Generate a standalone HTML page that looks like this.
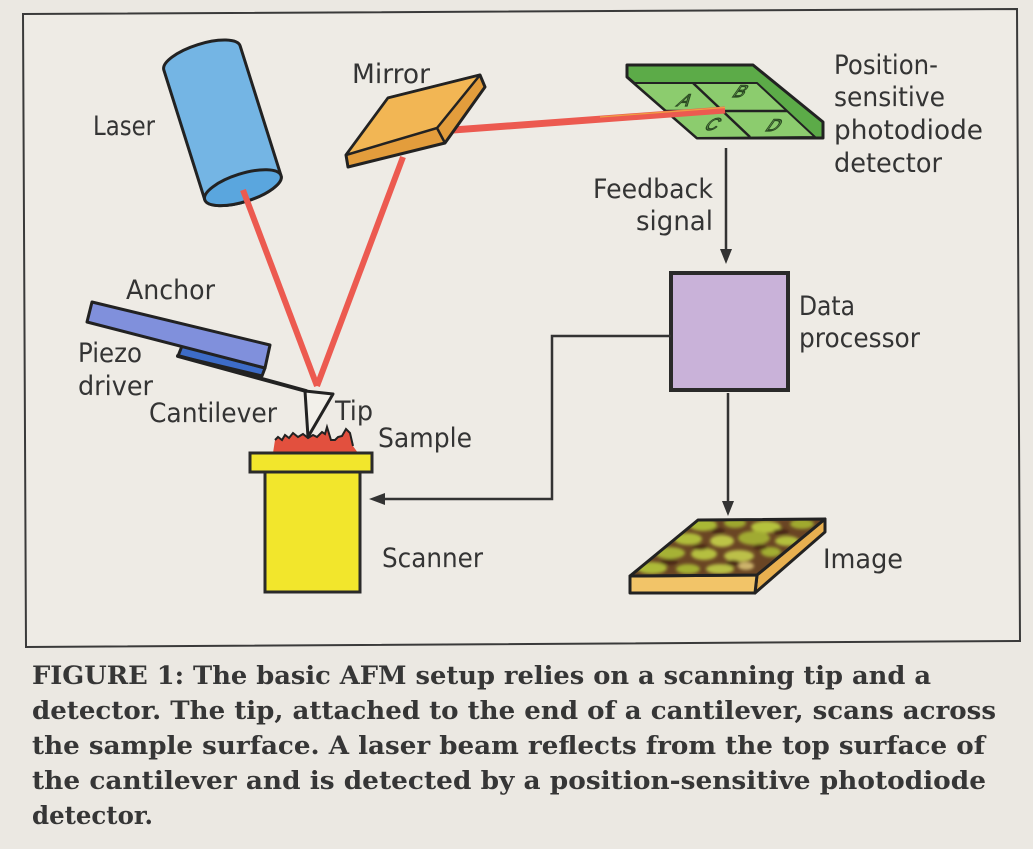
<!DOCTYPE html>
<html>
<head>
<meta charset="utf-8">
<style>
  html,body{margin:0;padding:0;background:#ebe8e2;}
  svg{display:block;}
  .lb{font-family:"DejaVu Sans","Liberation Sans",sans-serif;font-size:27px;fill:#343434;}
  .cap{font-family:"DejaVu Serif","Liberation Serif",serif;font-weight:bold;font-size:25px;fill:#363636;}
</style>
</head>
<body>
<svg width="1033" height="849" viewBox="0 0 1033 849" xmlns="http://www.w3.org/2000/svg">
  <defs>
    <clipPath id="imgclip">
      <polygon points="698,520 825,519 757,575 630,576"/>
    </clipPath>
    <filter id="soft" x="-10%" y="-10%" width="120%" height="120%">
      <feGaussianBlur stdDeviation="1.6"/>
    </filter>
  </defs>
  <rect x="0" y="0" width="1033" height="849" fill="#ebe8e2"/>
  <!-- border box -->
  <polygon points="23,14 1017,9 1020,641 26,647" fill="#eeebe5" stroke="#3a3a3a" stroke-width="2"/>

  <!-- Laser cylinder -->
  <g transform="translate(202,58) rotate(-17.5)">
    <path d="M-40,0 A40,14 0 0,1 40,0 L40,136 A40,14 0 0,1 -40,136 Z" fill="#74b5e4" stroke="#222" stroke-width="3" stroke-linejoin="round"/>
    <ellipse cx="0" cy="136" rx="40" ry="14" fill="#5aa6de" stroke="#222" stroke-width="3"/>
  </g>

  <!-- beams laser->tip, tip->mirror -->
  <line x1="243" y1="190" x2="317" y2="386" stroke="#ec5a50" stroke-width="6"/>
  <line x1="317" y1="386" x2="403" y2="157" stroke="#ec5a50" stroke-width="6"/>

  <!-- Detector -->
  <polygon points="627,65 753,65 823,122 823,138 697,138 627,77" fill="#5cab48" stroke="#222" stroke-width="3" stroke-linejoin="round"/>
  <polygon points="634,83 757,83 815,137 697,138" fill="#8ccc6e" stroke="#222" stroke-width="2" stroke-linejoin="round"/>
  <line x1="666" y1="111" x2="787" y2="111" stroke="#222" stroke-width="2.5"/>
  <line x1="693" y1="83" x2="750" y2="137" stroke="#222" stroke-width="2.5"/>
  <g font-family="Liberation Sans, sans-serif" font-size="17" fill="none" stroke="#2a4a22" stroke-width="1.2">
    <text x="676" y="106" transform="skewX(-35) translate(74,0)">A</text>
    <text x="731" y="97" transform="skewX(-35) translate(68,0)">B</text>
    <text x="703" y="130" transform="skewX(-35) translate(91,0)">C</text>
    <text x="764" y="131" transform="skewX(-35) translate(92,0)">D</text>
  </g>

  <!-- beam mirror->detector -->
  <line x1="453" y1="130" x2="725" y2="110" stroke="#ec5a50" stroke-width="7"/>
  <line x1="600" y1="117" x2="725" y2="107.5" stroke="#f0b040" stroke-width="1.2" opacity="0.8"/>

  <!-- Mirror -->
  <polygon points="388,98 480,75 485,87 445,143 348,167 346,155" fill="#e39d3c" stroke="#222" stroke-width="3" stroke-linejoin="round"/>
  <polygon points="388,98 480,75 437,128 346,155" fill="#f2b654" stroke="#222" stroke-width="2.5" stroke-linejoin="round"/>
  <line x1="437" y1="128" x2="445" y2="143" stroke="#222" stroke-width="2.5"/>

  <!-- Piezo and anchor -->
  <polygon points="182,346 265,368 262,376 178,356" fill="#3d6cc8" stroke="#222" stroke-width="3" stroke-linejoin="round"/>
  <polygon points="92,302 270,345 265,368 87,322" fill="#8090dc" stroke="#222" stroke-width="3" stroke-linejoin="round"/>
  <!-- cantilever -->
  <line x1="178" y1="356" x2="306" y2="391" stroke="#222" stroke-width="4" stroke-linecap="round"/>
  <polygon points="305,391 333,394 308,437" fill="#f2f0ea" stroke="#222" stroke-width="3" stroke-linejoin="round"/>

  <!-- Sample -->
  <polygon points="273,453 275,440 278,437 282,440 285,435 289,438 293,433 298,437 303,434 308,438 313,435 317,437 322,432 325,434 327,427 331,440 335,440 338,437 342,436 346,429 350,433 353,446 358,453" fill="#e2503e"/>
  <polyline points="275,440 278,437 282,440 285,435 289,438 293,433 298,437 303,434 308,438 313,435 317,437 322,432 325,434 327,427 331,440 335,440 338,437 342,436 346,429 350,433 353,446" fill="none" stroke="#222" stroke-width="2"/>

  <!-- Scanner -->
  <rect x="265" y="471" width="95" height="121" fill="#f2e62c" stroke="#2a2a2a" stroke-width="3"/>
  <rect x="250" y="453" width="122" height="19" fill="#f2e62c" stroke="#2a2a2a" stroke-width="3"/>

  <!-- Data processor -->
  <rect x="671" y="273" width="117" height="117" fill="#c9b2d9" stroke="#2a2a2a" stroke-width="4"/>

  <!-- connectors -->
  <g stroke="#333" stroke-width="2.5" fill="none">
    <line x1="726" y1="148" x2="726" y2="252"/>
    <line x1="728" y1="393" x2="728" y2="504"/>
    <path d="M671,336 H552 V499 H382"/>
  </g>
  <g fill="#333">
    <polygon points="726,264 720,249 732,249"/>
    <polygon points="728,516 722,501 734,501"/>
    <polygon points="369,499 385,493 385,505"/>
  </g>

  <!-- Image slab -->
  <polygon points="825,519 825,532 755,593 757,575" fill="#e8b050" stroke="#222" stroke-width="3" stroke-linejoin="round"/>
  <polygon points="630,576 757,575 755,593 630,593" fill="#f2c468" stroke="#222" stroke-width="3" stroke-linejoin="round"/>
  <g clip-path="url(#imgclip)">
    <rect x="620" y="510" width="215" height="75" fill="#6a4524"/>
    <g filter="url(#soft)">
      <ellipse cx="703" cy="525" rx="14" ry="6" fill="#a9b836"/>
      <ellipse cx="735" cy="523" rx="11" ry="5" fill="#9ea82e"/>
      <ellipse cx="766" cy="527" rx="15" ry="6" fill="#b5c23c"/>
      <ellipse cx="802" cy="524" rx="12" ry="5" fill="#a0aa2e"/>
      <ellipse cx="688" cy="539" rx="14" ry="6" fill="#b0bd3a"/>
      <ellipse cx="722" cy="541" rx="12" ry="6" fill="#bdc446"/>
      <ellipse cx="754" cy="538" rx="16" ry="7" fill="#a0aa30"/>
      <ellipse cx="787" cy="541" rx="12" ry="5" fill="#b3bf3c"/>
      <ellipse cx="670" cy="553" rx="15" ry="6" fill="#a6b234"/>
      <ellipse cx="704" cy="554" rx="13" ry="6" fill="#b5c040"/>
      <ellipse cx="739" cy="556" rx="15" ry="6" fill="#bcc04a"/>
      <ellipse cx="771" cy="552" rx="10" ry="5" fill="#a2ae30"/>
      <ellipse cx="652" cy="568" rx="15" ry="6" fill="#adba38"/>
      <ellipse cx="688" cy="569" rx="12" ry="5" fill="#a4b032"/>
      <ellipse cx="720" cy="569" rx="14" ry="5" fill="#b8c044"/>
      <ellipse cx="746" cy="566" rx="8" ry="4" fill="#cdb46c"/>
      <ellipse cx="718" cy="531" rx="7" ry="3" fill="#4a2814"/>
      <ellipse cx="781" cy="532" rx="8" ry="3" fill="#4a2814"/>
      <ellipse cx="700" cy="547" rx="8" ry="3" fill="#4e2a16"/>
      <ellipse cx="760" cy="547" rx="7" ry="3" fill="#4e2a16"/>
      <ellipse cx="669" cy="562" rx="9" ry="3" fill="#4a2814"/>
      <ellipse cx="733" cy="563" rx="7" ry="3" fill="#4a2814"/>
    </g>
  </g>
  <polygon points="698,520 825,519 757,575 630,576" fill="none" stroke="#222" stroke-width="3" stroke-linejoin="round"/>

  <!-- Labels -->
  <text class="lb" x="93" y="135" textLength="62" lengthAdjust="spacingAndGlyphs">Laser</text>
  <text class="lb" x="352" y="83" textLength="78" lengthAdjust="spacingAndGlyphs">Mirror</text>
  <text class="lb" x="834" y="74" textLength="104" lengthAdjust="spacingAndGlyphs">Position-</text>
  <text class="lb" x="834" y="106" textLength="111" lengthAdjust="spacingAndGlyphs">sensitive</text>
  <text class="lb" x="834" y="139" textLength="149" lengthAdjust="spacingAndGlyphs">photodiode</text>
  <text class="lb" x="834" y="172" textLength="108" lengthAdjust="spacingAndGlyphs">detector</text>
  <text class="lb" x="593" y="198" textLength="120" lengthAdjust="spacingAndGlyphs">Feedback</text>
  <text class="lb" x="636" y="230" textLength="77" lengthAdjust="spacingAndGlyphs">signal</text>
  <text class="lb" x="126" y="299" textLength="89" lengthAdjust="spacingAndGlyphs">Anchor</text>
  <text class="lb" x="78" y="362" textLength="64" lengthAdjust="spacingAndGlyphs">Piezo</text>
  <text class="lb" x="78" y="395" textLength="75" lengthAdjust="spacingAndGlyphs">driver</text>
  <text class="lb" x="149" y="422" textLength="128" lengthAdjust="spacingAndGlyphs">Cantilever</text>
  <text class="lb" x="335" y="420" textLength="38" lengthAdjust="spacingAndGlyphs">Tip</text>
  <text class="lb" x="378" y="447" textLength="94" lengthAdjust="spacingAndGlyphs">Sample</text>
  <text class="lb" x="382" y="567" textLength="101" lengthAdjust="spacingAndGlyphs">Scanner</text>
  <text class="lb" x="799" y="315" textLength="56" lengthAdjust="spacingAndGlyphs">Data</text>
  <text class="lb" x="799" y="347" textLength="121" lengthAdjust="spacingAndGlyphs">processor</text>
  <text class="lb" x="823" y="568" textLength="80" lengthAdjust="spacingAndGlyphs">Image</text>

  <!-- Caption -->
  <text class="cap" x="32" y="684" textLength="899" lengthAdjust="spacingAndGlyphs">FIGURE 1: The basic AFM setup relies on a scanning tip and a</text>
  <text class="cap" x="32" y="719" textLength="964" lengthAdjust="spacingAndGlyphs">detector. The tip, attached to the end of a cantilever, scans across</text>
  <text class="cap" x="32" y="754" textLength="953" lengthAdjust="spacingAndGlyphs">the sample surface. A laser beam reflects from the top surface of</text>
  <text class="cap" x="32" y="789" textLength="954" lengthAdjust="spacingAndGlyphs">the cantilever and is detected by a position-sensitive photodiode</text>
  <text class="cap" x="32" y="824" textLength="121" lengthAdjust="spacingAndGlyphs">detector.</text>
</svg>
</body>
</html>
